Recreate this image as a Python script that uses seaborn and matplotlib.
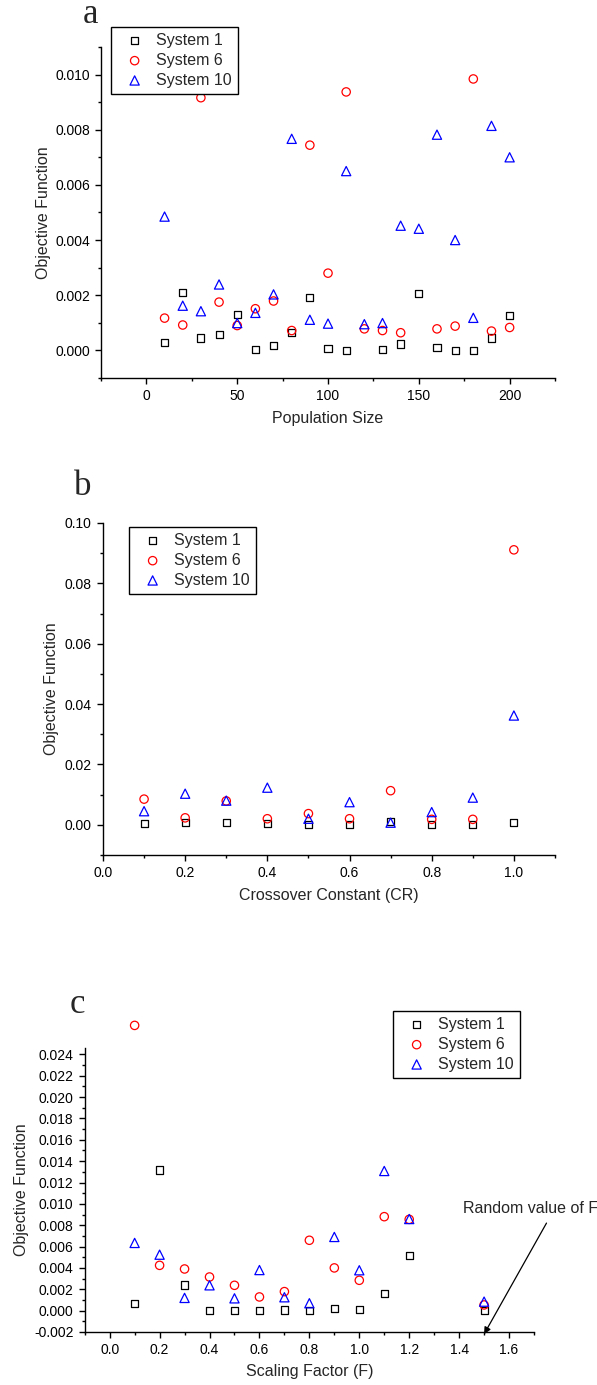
import numpy as np
import matplotlib
matplotlib.use("Agg")
import matplotlib.pyplot as plt
import seaborn as sns
from matplotlib.ticker import MultipleLocator, FormatStrFormatter

# ---------------- data ----------------
series_names = ["System 1", "System 6", "System 10"]

# (a) Population size
pop_size = [10, 20, 30, 40, 50, 60, 70, 80, 90, 100,
            110, 120, 130, 140, 150, 160, 170, 180, 190, 200]
pop_sys1 = [0.00027, 0.00211, 0.00045, 0.00059, 0.00131, 0.00004, 0.00019, 0.00065, 0.00191, 0.00007,
            0.00001, np.nan, 0.00003, 0.00023, 0.00207, 0.00012, 0.0, 0.0, 0.00045, 0.00128]
pop_sys6 = [0.00117, 0.00092, 0.00916, 0.00175, 0.00090, 0.00151, 0.00179, 0.00072, 0.00744, 0.00280,
            0.00937, 0.00078, 0.00072, 0.00064, np.nan, 0.00078, 0.00088, 0.00984, 0.00070, 0.00083]
pop_sys10 = [0.00485, 0.00162, 0.00142, 0.00239, 0.00099, 0.00136, 0.00203, 0.00767, 0.00111, 0.00097,
             0.00650, 0.00095, 0.00099, 0.00452, 0.00441, 0.00782, 0.00400, 0.00118, 0.00814, 0.00700]

# (b) Crossover constant
cr = [0.1, 0.2, 0.3, 0.4, 0.5, 0.6, 0.7, 0.8, 0.9, 1.0]
cr_sys1 = [0.0003, 0.0009, 0.0009, 0.0003, 0.0000, 0.0002, 0.0010, 0.0002, 0.0000, 0.0009]
cr_sys6 = [0.0085, 0.0023, 0.0079, 0.0020, 0.0037, 0.0020, 0.0113, 0.0018, 0.0018, 0.0911]
cr_sys10 = [0.0045, 0.0103, 0.0080, 0.0123, 0.0020, 0.0075, 0.0007, 0.0042, 0.0090, 0.0362]

# (c) Scaling factor
sf = [0.1, 0.2, 0.3, 0.4, 0.5, 0.6, 0.7, 0.8, 0.9, 1.0, 1.1, 1.2, 1.5]
sf_sys1 = [0.00069, 0.01317, 0.00240, 0.0, 0.0, 0.0, 0.00006, 0.0, 0.00022, 0.00010, 0.00160, 0.00520, 0.0]
sf_sys6 = [0.02672, 0.00424, 0.00390, 0.00315, 0.00237, 0.00128, 0.00178, 0.00659, 0.00400, 0.00284,
           0.00880, 0.00855, 0.00053]
sf_sys10 = [0.00634, 0.00524, 0.00119, 0.00237, 0.00115, 0.00380, 0.00125, 0.00069, 0.00690, 0.00378,
            0.01308, 0.00858, 0.00084]

# ---------------- style ----------------
sns.set_style("ticks")
plt.rcParams["font.family"] = ["Liberation Sans", "DejaVu Sans"]
plt.rcParams["axes.unicode_minus"] = False

colors = ["black", "red", "blue"]
markers = ["s", "o", "^"]
sizes = [26, 36, 44]

fig = plt.figure(figsize=(5.97, 13.85), dpi=100)

TICK_FS = 10
LABEL_FS = 11.5
LEG_FS = 11.5
LETTER_FS = 25


def style_axes(ax):
    sns.despine(ax=ax)
    for s in ["left", "bottom"]:
        ax.spines[s].set_linewidth(1.0)
        ax.spines[s].set_color("black")
    ax.tick_params(which="major", direction="out", length=4.5, width=1.0,
                   labelsize=TICK_FS, colors="black")
    ax.tick_params(which="minor", direction="out", length=2.5, width=1.0, colors="black")


def draw(ax, x, ys):
    handles = []
    for name, y, c, m, s in zip(series_names, ys, colors, markers, sizes):
        sns.scatterplot(x=x, y=y, ax=ax, marker=m, s=s, color=c, facecolor="none",
                        edgecolor=c, linewidth=0.9, clip_on=False, legend=False,
                        label=name, zorder=3)
        handles.append(ax.collections[-1])
    return handles


def add_legend(handles, left, top):
    leg = fig.legend(handles, series_names, loc="upper left",
                     bbox_to_anchor=(left, top), bbox_transform=fig.transFigure,
                     borderaxespad=0, fontsize=LEG_FS, frameon=True, fancybox=False,
                     framealpha=1, edgecolor="black", handlelength=2.2,
                     handletextpad=0.25, labelspacing=0.3, borderpad=0.38)
    leg.get_frame().set_linewidth(1.0)
    return leg


# ---------------- panel a ----------------
ax_a = fig.add_axes([0.1692, 0.7271, 0.7605, 0.2390])
h = draw(ax_a, pop_size, [pop_sys1, pop_sys6, pop_sys10])
ax_a.set_xlim(-25, 225)
ax_a.set_ylim(-0.001, 0.011)
ax_a.xaxis.set_major_locator(MultipleLocator(50))
ax_a.xaxis.set_minor_locator(MultipleLocator(25))
ax_a.yaxis.set_major_locator(MultipleLocator(0.002))
ax_a.yaxis.set_minor_locator(MultipleLocator(0.001))
ax_a.yaxis.set_major_formatter(FormatStrFormatter("%.3f"))
ax_a.xaxis.set_major_formatter(FormatStrFormatter("%d"))
style_axes(ax_a)
ax_a.set_xlabel("Population Size", fontsize=LABEL_FS, labelpad=6)
ax_a.set_ylabel("Objective Function", fontsize=LABEL_FS, labelpad=3)
add_legend(h, 111 / 597, 1 - 27 / 1385)
fig.text(91 / 597, 1 - 23 / 1385, "a", fontsize=LETTER_FS, family="Liberation Serif",
         ha="center", va="baseline")

# ---------------- panel b ----------------
ax_b = fig.add_axes([0.1725, 0.3827, 0.7571, 0.2397])
h = draw(ax_b, cr, [cr_sys1, cr_sys6, cr_sys10])
ax_b.set_xlim(0, 1.1)
ax_b.set_ylim(-0.01, 0.10)
ax_b.xaxis.set_major_locator(MultipleLocator(0.2))
ax_b.xaxis.set_minor_locator(MultipleLocator(0.1))
ax_b.yaxis.set_major_locator(MultipleLocator(0.02))
ax_b.yaxis.set_minor_locator(MultipleLocator(0.01))
ax_b.yaxis.set_major_formatter(FormatStrFormatter("%.2f"))
ax_b.xaxis.set_major_formatter(FormatStrFormatter("%.1f"))
style_axes(ax_b)
ax_b.set_xlabel("Crossover Constant (CR)", fontsize=LABEL_FS, labelpad=6)
ax_b.set_ylabel("Objective Function", fontsize=LABEL_FS, labelpad=4)
add_legend(h, 129 / 597, 1 - 527 / 1385)
fig.text(83 / 597, 1 - 495 / 1385, "b", fontsize=LETTER_FS, family="Liberation Serif",
         ha="center", va="baseline")

# ---------------- panel c ----------------
ax_c = fig.add_axes([0.1419, 0.0383, 0.7526, 0.2050])
h = draw(ax_c, sf, [sf_sys1, sf_sys6, sf_sys10])
ax_c.set_xlim(-0.1, 1.7)
ax_c.set_ylim(-0.002, 0.0246)
ax_c.xaxis.set_major_locator(MultipleLocator(0.2))
ax_c.xaxis.set_minor_locator(MultipleLocator(0.1))
ax_c.yaxis.set_major_locator(MultipleLocator(0.002))
ax_c.yaxis.set_minor_locator(MultipleLocator(0.001))
ax_c.yaxis.set_major_formatter(FormatStrFormatter("%.3f"))
ax_c.xaxis.set_major_formatter(FormatStrFormatter("%.1f"))
style_axes(ax_c)
ax_c.set_xlabel("Scaling Factor (F)", fontsize=LABEL_FS, labelpad=5)
ax_c.set_ylabel("Objective Function", fontsize=LABEL_FS, labelpad=3.5)
add_legend(h, 393 / 597, 1 - 1011 / 1385)
fig.text(77 / 597, 1 - 1013 / 1385, "c", fontsize=LETTER_FS, family="Liberation Serif",
         ha="center", va="baseline")

ax_c.annotate("", xy=(1.5, -0.0022), xytext=(1.75, 0.0082),
              arrowprops=dict(arrowstyle="-|>", color="black", lw=0.9,
                              mutation_scale=10, shrinkA=0, shrinkB=0),
              annotation_clip=False)
ax_c.text(1.415, 0.0096, "Random value of F", fontsize=LABEL_FS, ha="left",
          va="center", clip_on=False)

fig.savefig("out.png", dpi=100)
